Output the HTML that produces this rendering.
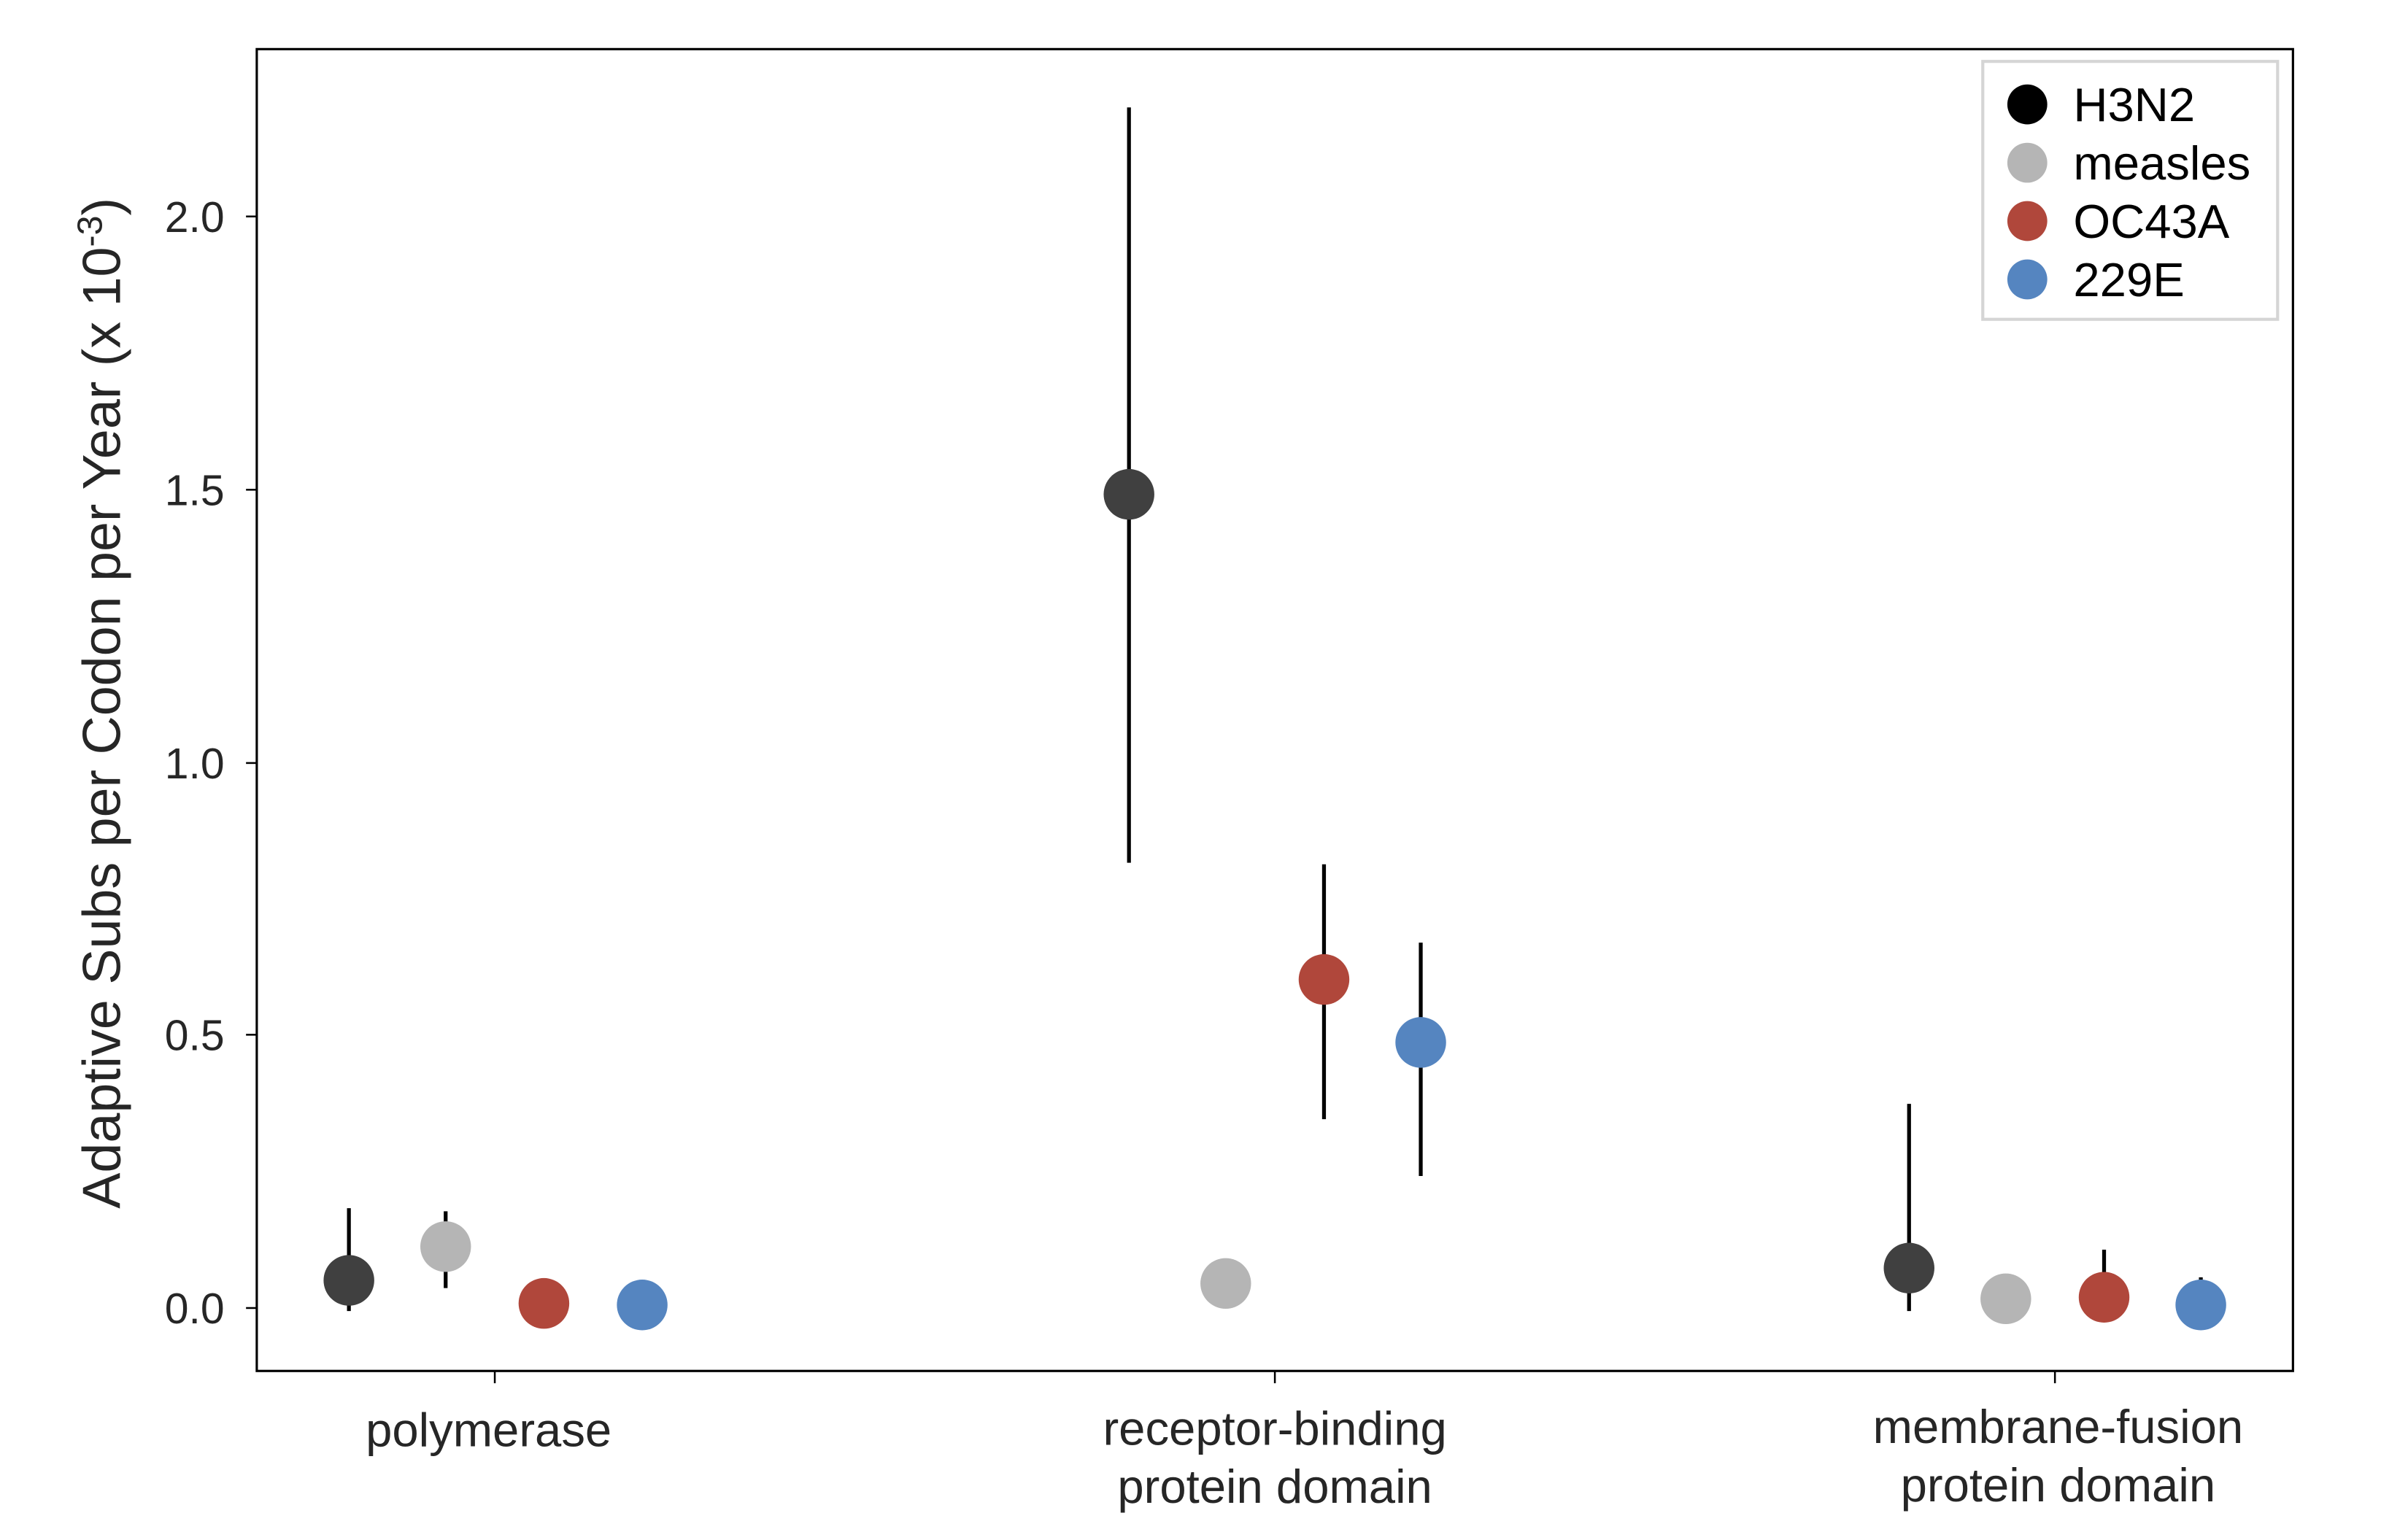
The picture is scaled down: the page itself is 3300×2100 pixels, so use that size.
<!DOCTYPE html>
<html><head><meta charset="utf-8"><style>html,body{margin:0;padding:0;background:#fff}svg{display:block}</style></head>
<body>
<svg width="3300" height="2100" viewBox="0 0 1567.7 997.9" xmlns="http://www.w3.org/2000/svg" font-family="Liberation Sans, Arial, sans-serif">
<rect x="0" y="0" width="1567.7" height="997.9" fill="#fff"/>
<rect x="167" y="32" width="1326" height="861" fill="none" stroke="#000" stroke-width="1.5"/>
<g stroke="#000" stroke-width="1.2">
<line x1="160" y1="852" x2="167" y2="852"/><line x1="160" y1="674" x2="167" y2="674"/><line x1="160" y1="497" x2="167" y2="497"/><line x1="160" y1="319" x2="167" y2="319"/><line x1="160" y1="141" x2="167" y2="141"/>
<line x1="322" y1="893" x2="322" y2="901"/><line x1="830" y1="893" x2="830" y2="901"/><line x1="1338" y1="893" x2="1338" y2="901"/>
</g>
<g font-size="28" fill="#262626" text-anchor="end">
<text x="146" y="862">0.0</text><text x="146" y="684">0.5</text><text x="146" y="507">1.0</text><text x="146" y="329">1.5</text><text x="146" y="151">2.0</text>
</g>
<text transform="translate(78,458) rotate(-90)" font-size="35" fill="#262626" text-anchor="middle">Adaptive Subs per Codon per Year (x 10<tspan dy="-12" font-size="23">-3</tspan><tspan dy="12">)</tspan></text>
<g font-size="31" fill="#262626" text-anchor="middle">
<text x="318" y="942">polymerase</text>
<text x="830" y="941">receptor-binding</text><text x="830" y="979">protein domain</text>
<text x="1340" y="940">membrane-fusion</text><text x="1340" y="978">protein domain</text>
</g>
<g stroke="#000" stroke-width="2.5">
<line x1="227" y1="787" x2="227" y2="854"/>
<line x1="290" y1="789" x2="290" y2="839"/>
<line x1="735" y1="70" x2="735" y2="562"/>
<line x1="862" y1="563" x2="862" y2="729"/>
<line x1="925" y1="614" x2="925" y2="766"/>
<line x1="1243" y1="719" x2="1243" y2="854"/>
<line x1="1370" y1="814" x2="1370" y2="850"/>
<line x1="1433" y1="832" x2="1433" y2="852"/>
</g>
<g>
<circle cx="227" cy="834" r="16.5" fill="#404040"/>
<circle cx="290" cy="812" r="16.5" fill="#b5b5b5"/>
<circle cx="354" cy="849" r="16.5" fill="#b0473b"/>
<circle cx="418" cy="850" r="16.5" fill="#5585c0"/>
<circle cx="735" cy="322" r="16.5" fill="#404040"/>
<circle cx="798" cy="836" r="16.5" fill="#b5b5b5"/>
<circle cx="862" cy="638" r="16.5" fill="#b0473b"/>
<circle cx="925" cy="679" r="16.5" fill="#5585c0"/>
<circle cx="1243" cy="826" r="16.5" fill="#404040"/>
<circle cx="1306" cy="846" r="16.5" fill="#b5b5b5"/>
<circle cx="1370" cy="845" r="16.5" fill="#b0473b"/>
<circle cx="1433" cy="850" r="16.5" fill="#5585c0"/>
</g>
<rect x="1291" y="40" width="192" height="168" fill="#fff" stroke="#d5d5d5" stroke-width="2"/>
<circle cx="1320" cy="68" r="13" fill="#000"/>
<circle cx="1320" cy="106" r="13" fill="#b5b5b5"/>
<circle cx="1320" cy="144" r="13" fill="#b0473b"/>
<circle cx="1320" cy="182" r="13" fill="#5585c0"/>
<g font-size="31" fill="#000">
<text x="1350" y="79">H3N2</text><text x="1350" y="117">measles</text><text x="1350" y="155">OC43A</text><text x="1350" y="193">229E</text>
</g>
</svg>
</body></html>
